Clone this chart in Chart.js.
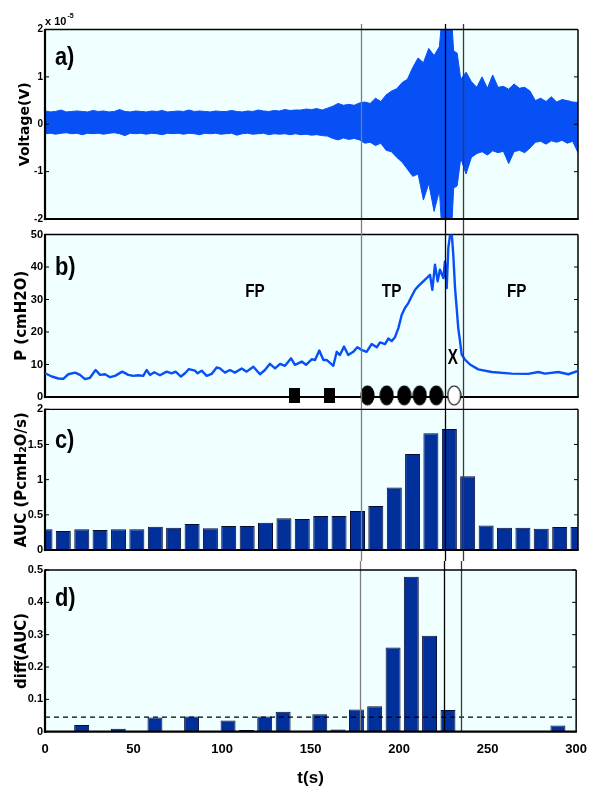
<!DOCTYPE html>
<html><head><meta charset="utf-8">
<script src="https://cdn.jsdelivr.net/npm/chart.js@4.4.1/dist/chart.umd.min.js"></script>
<style>
html,body{margin:0;padding:0;background:#fff;width:597px;height:790px;overflow:hidden}
#wrap{position:relative;width:597px;height:790px}
canvas{position:absolute;left:0}
</style></head><body>
<div id="wrap">
<canvas id="ca" width="597" height="228" style="top:0px"></canvas>
<canvas id="cb" width="597" height="184" style="top:224px"></canvas>
<canvas id="cc" width="597" height="162" style="top:399px"></canvas>
<canvas id="cd" width="597" height="230" style="top:560px"></canvas>
</div>
<script>
// ---------------- data ----------------
const xTickStep = 50;
const eventT = [177.9, 225.3, 235.0];

// a) voltage envelope (x 1e-5 V)
const voltT = [0,3,6,9,12,15,18,21,24,27,30,33,36,39,42,45,48,51,54,57,60,63,66,69,72,75,78,81,84,87,
  90,93,96,99,102,105,108,111,114,117,120,123,126,129,132,135,138,141,144,147,150,153,156,159,162,165,168,171,174,177,
  180,183,186,189,192,195,198,201,204,207,210,213,216,219,222,223.3,225,227,228.9,230,232,
  234,237,240,243,246,249,252,255,258,261,264,267,270,273,276,279,282,285,288,291,294,297,300];
const voltUpper = [0.28,0.26,0.27,0.30,0.26,0.27,0.28,0.27,0.26,0.29,0.27,0.28,0.26,0.27,0.31,0.27,0.26,0.28,0.27,0.26,
  0.28,0.27,0.29,0.26,0.27,0.28,0.27,0.30,0.27,0.28,0.27,0.26,0.28,0.27,0.27,0.29,0.27,0.26,0.28,0.27,
  0.30,0.28,0.27,0.29,0.28,0.31,0.29,0.30,0.30,0.32,0.31,0.33,0.30,0.34,0.38,0.44,0.40,0.42,0.40,0.45,
  0.47,0.44,0.55,0.48,0.62,0.70,0.75,0.88,0.95,1.20,1.40,1.30,1.60,1.45,1.64,2.2,2.2,2.2,2.2,1.55,1.50,
  0.95,1.10,0.90,0.78,1.00,0.76,1.04,0.78,0.80,0.74,0.85,0.76,0.78,0.70,0.50,0.55,0.48,0.58,0.47,0.52,0.50,0.47,0.46];
const voltLower = [-0.20,-0.19,-0.21,-0.19,-0.18,-0.20,-0.19,-0.22,-0.19,-0.20,-0.19,-0.21,-0.19,-0.18,-0.20,-0.24,-0.19,-0.20,-0.19,-0.21,
  -0.19,-0.20,-0.22,-0.19,-0.20,-0.19,-0.21,-0.19,-0.20,-0.22,-0.19,-0.20,-0.19,-0.21,-0.20,-0.19,-0.23,-0.20,-0.19,-0.21,
  -0.20,-0.19,-0.22,-0.20,-0.21,-0.20,-0.22,-0.20,-0.22,-0.21,-0.23,-0.22,-0.24,-0.25,-0.30,-0.33,-0.29,-0.32,-0.30,-0.33,
  -0.40,-0.38,-0.45,-0.40,-0.55,-0.58,-0.70,-0.80,-0.95,-1.10,-1.05,-1.60,-1.25,-1.84,-1.40,-2.2,-2.2,-2.2,-2.2,-1.35,-1.30,
  -0.72,-1.05,-0.70,-0.62,-0.58,-0.65,-0.56,-0.60,-0.57,-0.83,-0.58,-0.55,-0.60,-0.50,-0.38,-0.36,-0.42,-0.35,-0.38,-0.34,-0.40,-0.36,-0.60];

// b) pressure (cmH2O)
const presT = [0,3.8,7.5,10.3,13.1,16.9,19.7,22.5,25.3,28.5,31,33.8,36.6,39.4,43.5,46.9,49.7,52.5,55.3,57.2,
  59.1,61.5,64.7,68.5,71.3,73.5,76.5,78.8,81,84.4,85.9,88.2,91,93.8,96.6,98.5,
  101.3,104.1,106.9,110.7,113.5,117.3,121,123.8,126.6,129.5,132.3,135.1,138.5,140.7,144.5,146.9,150.1,152,154.4,156.7,
  158.5,162.3,164.2,166,168.3,170.7,173.5,175.8,178.2,181,183.9,186.7,188.6,191.4,193.3,195.1,197,
  198.9,200.8,202.6,204.5,206.4,208.3,210.1,212.9,214.8,216.7,218,219.5,221,222.3,224.2,225.1,226.1,227,228,228.9,
  229.8,230.8,231.7,232.6,233.6,234.5,236.4,239.2,243.9,251.4,262.7,272,277.7,281.4,288.9,294.6,300];
const presP = [7.3,6.3,5.7,5.6,7.0,7.5,6.8,5.5,5.9,8.3,6.8,7.0,6.1,6.5,7.8,6.8,6.5,6.7,6.5,8.3,
  6.8,7.6,6.7,7.8,7.3,7.8,6.3,7.3,8.6,8.1,7.3,8.1,6.5,7.1,9.1,8.8,
  7.5,8.3,7.5,8.8,7.8,9.3,7.0,8.3,10.2,8.8,10.2,9.6,11.9,9.9,10.9,9.9,11.6,11.4,14.3,11.4,
  11.4,9.6,13.9,12.9,15.5,12.9,13.9,15.3,14.5,13.9,16.3,15.3,16.8,16.3,18.0,17.2,18.4,
  21.2,25.3,27.4,28.9,31.0,33.0,34.1,35.6,36.6,37.6,33.0,40.7,35.6,39.2,36.6,41.7,33.5,45.8,49.9,50.5,
  43.8,33.5,27.4,21.2,17.2,13.1,11.5,10.0,8.5,7.7,7.2,7.1,7.7,7.2,7.7,7.0,8.0];
const squareT = [140.5, 160.2];
const circleT = [181.5, 192.3, 202.2, 210.9, 220.2];
const openCircleT = [230.3];
const markerP = 0.5;

// c) AUC per 10 s window
const binT = [0,10.3,20.7,31.0,41.4,51.7,62.1,72.4,82.8,93.1,103.4,113.8,124.1,134.5,144.8,
  155.2,165.5,175.9,186.2,196.6,206.9,217.2,227.6,237.9,248.3,258.6,269.0,279.3,289.7,300];
const auc = [0.294,0.27,0.294,0.284,0.294,0.294,0.33,0.318,0.37,0.308,0.34,0.34,0.389,0.45,0.44,
  0.483,0.483,0.555,0.626,0.89,1.365,1.66,1.72,1.047,0.35,0.318,0.318,0.303,0.327,0.327];

// d) diff(AUC)
const diffAuc = [null,null,0.021,null,0.009,null,0.044,null,0.047,null,0.035,0.005,0.047,0.062,null,
  0.054,0.007,0.069,0.079,0.26,0.479,0.297,0.067,null,null,null,null,null,0.019,null];
const threshold = 0.045;

// ---------------- style ----------------
const FONT_N = "'Liberation Sans',Arial,sans-serif";
const FONT_W = "'DejaVu Sans','Liberation Sans',Arial,sans-serif";
const BLUE = '#0750f6';
const NAVY = '#02309a';
const BG = '#f0ffff';
const eventColors = ['#7d7d7d', '#000000', '#3a3a3a'];

function xy(xs, ys) { return xs.map((x, i) => ({x: x, y: ys[i]})); }
const fmt = v => String(Math.round(v * 100) / 100);

function yAxis(min, max, step, title, tickSize, titleSize, titlePad) {
  return {
    type: 'linear', position: 'left', min: min, max: max,
    ticks: {stepSize: step, color: '#000', padding: 2, callback: fmt, font: {family: FONT_N, size: tickSize, weight: 'bold'}},
    grid: {display: false, drawTicks: false}, border: {display: false},
    title: {display: true, text: title, color: '#000', font: {family: FONT_W, size: titleSize, weight: 'bold'}, padding: {top: titlePad, bottom: 0}},
    afterFit(s) { s.width = 45; }
  };
}
function hiddenX() { return {type: 'linear', min: 0, max: 300, offset: false, display: false}; }

function line(ctx, x1, y1, x2, y2) { ctx.beginPath(); ctx.moveTo(x1, y1); ctx.lineTo(x2, y2); ctx.stroke(); }

function panelPlugin(cfg) {
  function drawFrame(chart) {
    const {ctx, chartArea: a, scales} = chart;
    ctx.save();
    ctx.strokeStyle = '#000';
    ctx.lineWidth = 1.3; line(ctx, a.left, a.top, a.right, a.top);
    ctx.lineWidth = 1.5; line(ctx, a.right, a.top, a.right, a.bottom);
    ctx.lineWidth = 2.2; line(ctx, a.left, a.top - 0.6, a.left, a.bottom + 1.1); line(ctx, a.left - 1.1, a.bottom, a.right + 0.75, a.bottom);
    ctx.lineWidth = 1;
    scales.y.ticks.forEach(t => {
      const py = scales.y.getPixelForValue(t.value);
      line(ctx, a.left, py, a.left + 4, py);
      line(ctx, a.right - 4, py, a.right, py);
    });
    ctx.restore();
  }
  function drawEvents(chart) {
    const {ctx, chartArea: a, scales} = chart;
    ctx.save();
    eventT.forEach((t, i) => {
      const x = Math.round(scales.x.getPixelForValue(t)) + 0.5;
      ctx.strokeStyle = eventColors[i];
      ctx.lineWidth = 1.3;
      line(ctx, x, cfg.lineFrom, x, cfg.lineToArea ? a.bottom : chart.height);
    });
    ctx.restore();
  }
  function drawTexts(chart) {
    const {ctx, chartArea: a, scales} = chart;
    ctx.save();
    ctx.fillStyle = '#000';
    (cfg.texts || []).forEach(o => {
      ctx.save();
      ctx.textBaseline = 'middle';
      ctx.font = 'bold ' + o.size + 'px ' + FONT_N;
      ctx.textAlign = o.align || 'center';
      ctx.translate(scales.x.getPixelForValue(o.t), scales.y.getPixelForValue(o.v));
      ctx.scale(o.sx || 1, o.sy || 1);
      ctx.fillText(o.text, 0, 0);
      ctx.restore();
    });
    if (cfg.exponent) {
      ctx.textAlign = 'left';
      ctx.textBaseline = 'alphabetic';
      ctx.font = 'bold 11px ' + FONT_N;
      ctx.fillText('x 10', a.left, a.top - 5);
      const w = ctx.measureText('x 10').width;
      ctx.font = 'bold 7px ' + FONT_N;
      ctx.fillText(cfg.exponent, a.left + w + 1, a.top - 12);
    }
    ctx.restore();
  }
  return {
    id: 'panel_' + cfg.name,
    beforeDraw(chart) {
      const {ctx, chartArea: a} = chart;
      ctx.save(); ctx.fillStyle = BG;
      ctx.fillRect(a.left, a.top, a.right - a.left, a.bottom - a.top);
      ctx.restore();
    },
    beforeDatasetsDraw(chart) { if (cfg.frameFirst) drawFrame(chart); },
    afterDatasetsDraw(chart) {
      drawEvents(chart);
      if (!cfg.frameFirst) drawFrame(chart);
      drawTexts(chart);
    }
  };
}

const base = {responsive: false, animation: false, maintainAspectRatio: false,
  plugins: {legend: {display: false}, tooltip: {enabled: false}}};
const panelLabel = (txt, v) => ({text: txt, t: 5.6, v: v, size: 23, align: 'left', sx: 0.95, sy: 1.1});

// ---------------- a) ----------------
new Chart(document.getElementById('ca'), {
  type: 'line',
  data: {datasets: [
    {data: xy(voltT, voltUpper), borderColor: BLUE, backgroundColor: BLUE, borderWidth: 1, pointRadius: 0, tension: 0, fill: '+1'},
    {data: xy(voltT, voltLower), borderColor: BLUE, backgroundColor: BLUE, borderWidth: 1, pointRadius: 0, tension: 0, fill: false}
  ]},
  options: Object.assign({}, base, {
    layout: {padding: {top: 29.5, bottom: 9, left: 0, right: 19}},
    scales: {x: hiddenX(), y: yAxis(-2, 2, 1, 'Voltage(V)', 10, 14, 17)}
  }),
  plugins: [panelPlugin({name: 'a', lineFrom: 24, exponent: '-5',
    texts: [panelLabel('a)', 1.4)]})]
});

// ---------------- b) ----------------
function ellipseImg(filled) {
  const c = document.createElement('canvas'); c.width = 15; c.height = 21;
  const g = c.getContext('2d');
  g.beginPath(); g.ellipse(7.5, 10.5, 6.5, 9.5, 0, 0, 2 * Math.PI);
  g.fillStyle = filled ? '#000' : '#fff'; g.fill();
  g.lineWidth = 1.2; g.strokeStyle = '#000'; g.stroke();
  return c;
}
function squareImg() {
  const c = document.createElement('canvas'); c.width = 11; c.height = 15;
  const g = c.getContext('2d'); g.fillStyle = '#000'; g.fillRect(0, 0, 11, 15);
  return c;
}
const markerDs = (ts, img) => ({type: 'line', data: ts.map(t => ({x: t, y: markerP})), showLine: false,
  pointStyle: img, pointRadius: 7, clip: false, borderColor: '#000', backgroundColor: '#000'});

new Chart(document.getElementById('cb'), {
  type: 'line',
  data: {datasets: [
    markerDs(openCircleT, ellipseImg(false)),
    markerDs(circleT, ellipseImg(true)),
    markerDs(squareT, squareImg()),
    {data: xy(presT, presP), borderColor: BLUE, borderWidth: 2.4, pointRadius: 0, tension: 0, fill: false, borderJoinStyle: 'round'}
  ]},
  options: Object.assign({}, base, {
    layout: {padding: {top: 10.5, bottom: 11, left: 0, right: 19}},
    scales: {x: hiddenX(), y: yAxis(0, 50, 10, 'P (cmH2O)', 11, 15, 13)}
  }),
  plugins: [panelPlugin({name: 'b', lineFrom: 4, frameFirst: true,
    texts: [
      panelLabel('b)', 39.7),
      {text: 'FP', t: 118.2, v: 32.5, size: 18, sx: 0.85, sy: 1.05},
      {text: 'TP', t: 195.1, v: 32.5, size: 18, sx: 0.85, sy: 1.05},
      {text: 'FP', t: 265.5, v: 32.5, size: 18, sx: 0.85, sy: 1.05},
      {text: 'X', t: 229.5, v: 12, size: 19, sx: 0.8, sy: 1.15}
    ]})]
});

// ---------------- c) ----------------
new Chart(document.getElementById('cc'), {
  type: 'bar',
  data: {datasets: [
    {data: xy(binT, auc), backgroundColor: NAVY, borderColor: '#0b0b30', borderWidth: 1,
     barPercentage: 0.82, categoryPercentage: 1, clip: 0}
  ]},
  options: Object.assign({}, base, {
    layout: {padding: {top: 10.3, bottom: 11, left: 0, right: 19}},
    scales: {x: hiddenX(), y: yAxis(0, 2, 0.5, 'AUC (PcmH\u2082O/s)', 11, 15, 13)}
  }),
  plugins: [panelPlugin({name: 'c', lineFrom: 9,
    texts: [panelLabel('c)', 1.55)]})]
});

// ---------------- d) ----------------
new Chart(document.getElementById('cd'), {
  type: 'bar',
  data: {datasets: [
    {type: 'line', data: [{x: 0, y: threshold}, {x: 300, y: threshold}], borderColor: '#000', borderWidth: 1.4,
     borderDash: [5, 4], pointRadius: 0, fill: false, order: 0},
    {data: xy(binT, diffAuc), backgroundColor: NAVY, borderColor: '#0b0b30', borderWidth: 1,
     barPercentage: 0.82, categoryPercentage: 1, clip: 0, order: 1}
  ]},
  options: Object.assign({}, base, {
    layout: {padding: {top: 10, bottom: 0, left: 0, right: 19}},
    scales: {
      x: {type: 'linear', min: 0, max: 300, offset: false,
          ticks: {stepSize: xTickStep, color: '#000', padding: 10, font: {family: FONT_N, size: 13, weight: 'bold'}},
          grid: {display: false, drawTicks: false}, border: {display: false},
          title: {display: true, text: 't(s)', color: '#000', font: {family: FONT_N, size: 17, weight: 'bold'}, padding: {top: 5, bottom: 1}},
          afterFit(s) { s.height = 58.3; }},
      y: yAxis(0, 0.5, 0.1, 'diff(AUC)', 11, 15, 13)
    }
  }),
  plugins: [panelPlugin({name: 'd', lineFrom: 1, lineToArea: true,
    texts: [panelLabel('d)', 0.41)]})]
});
</script>
</body></html>
